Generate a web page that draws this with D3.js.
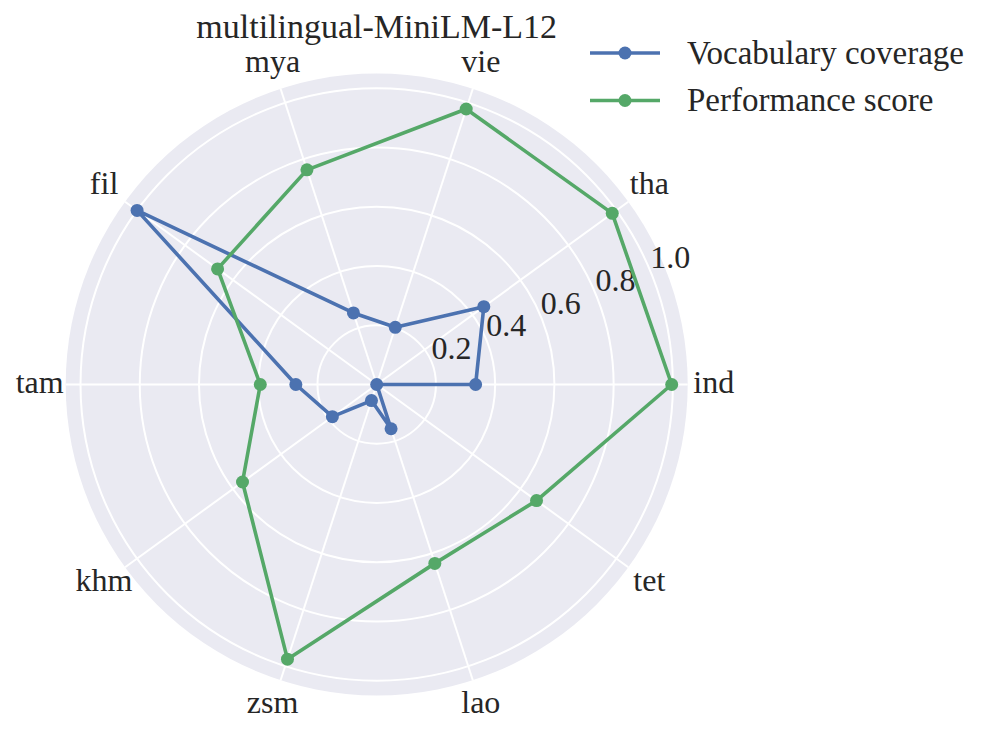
<!DOCTYPE html>
<html>
<head>
<meta charset="utf-8">
<script src="https://cdn.jsdelivr.net/npm/d3@7"></script>
<style>
  body { margin: 0; background: #fff; }
  text { font-family: "Liberation Serif", "Times New Roman", serif; fill: #262626; }
</style>
</head>
<body>
<svg id="chart" width="996" height="735"></svg>
<script>
// languages, in order counter-clockwise from east
var languages = ['ind', 'tha', 'vie', 'mya', 'fil', 'tam', 'khm', 'zsm', 'lao', 'tet'];
var vocabCoverage = [0.334, 0.447, 0.203, 0.254, 1.0, 0.273, 0.185, 0.057, 0.157, 0.0];
var perfScore = [0.996, 0.983, 0.978, 0.762, 0.664, 0.393, 0.56, 0.975, 0.635, 0.667];
var rTicks = [0.2, 0.4, 0.6, 0.8, 1.0];
var seriesNames = ['Vocabulary coverage', 'Performance score'];
var seriesColors = ['#4C72B0', '#55A868'];
var title = 'multilingual-MiniLM-L12';

var cx = 376.7, cy = 384.5, outerR = 311;

var svg = d3.select('#chart');
var g = svg.append('g').attr('transform', 'translate(' + cx + ',' + cy + ')');

// radius scale, 0 at centre, 1.05 at the edge
var rScale = d3.scaleLinear().domain([0, 1.05]).range([0, outerR]);

// math angle (ccw from east) for each category index
var thetaScale = d3.scaleLinear().domain([0, languages.length]).range([0, 2 * Math.PI]);

function px(i, r) { return rScale(r) * Math.cos(thetaScale(i)); }
function py(i, r) { return -rScale(r) * Math.sin(thetaScale(i)); }

// background disc
g.append('circle').attr('r', outerR).attr('fill', '#EAEAF2');

// circular grid
g.selectAll('.ring')
    .data(rTicks)
    .enter().append('circle')
    .attr('r', function (d) { return rScale(d); })
    .attr('fill', 'none')
    .attr('stroke', '#fff')
    .attr('stroke-width', 2);

// spokes
g.selectAll('.spoke')
    .data(languages)
    .enter().append('line')
    .attr('x1', 0).attr('y1', 0)
    .attr('x2', function (d, i) { return px(i, 1.05); })
    .attr('y2', function (d, i) { return py(i, 1.05); })
    .attr('stroke', '#fff')
    .attr('stroke-width', 2);

// radial tick labels along 22.5 degrees
var labAng = 22.5 * Math.PI / 180;
g.selectAll('.rlab')
    .data(rTicks)
    .enter().append('text')
    .attr('x', function (d) { return rScale(d) * Math.cos(labAng) + 20; })
    .attr('y', function (d) { return -rScale(d) * Math.sin(labAng) - 14; })
    .attr('dy', '0.35em')
    .attr('text-anchor', 'middle')
    .style('font-size', '32px')
    .text(function (d) { return d.toFixed(1); });

// category labels
g.selectAll('.clab')
    .data(languages)
    .enter().append('text')
    .attr('x', function (d, i) { return 337 * Math.cos(thetaScale(i)); })
    .attr('y', function (d, i) { return -337 * Math.sin(thetaScale(i)); })
    .attr('dy', '0.25em')
    .attr('text-anchor', 'middle')
    .style('font-size', '32px')
    .text(function (d) { return d; });

// series
var line = d3.lineRadial()
    .angle(function (d, i) { return Math.PI / 2 - thetaScale(i); })
    .radius(function (d) { return rScale(d); })
    .curve(d3.curveLinearClosed);

[vocabCoverage, perfScore].forEach(function (vals, s) {
    g.append('path')
        .attr('d', line(vals))
        .attr('fill', 'none')
        .attr('stroke', seriesColors[s])
        .attr('stroke-width', 3.6)
        .attr('stroke-linejoin', 'round');
    g.selectAll('.pt' + s)
        .data(vals)
        .enter().append('circle')
        .attr('cx', function (d, i) { return px(i, d); })
        .attr('cy', function (d, i) { return py(i, d); })
        .attr('r', 6.5)
        .attr('fill', seriesColors[s]);
});

// title
svg.append('text')
    .attr('x', cx)
    .attr('y', 38)
    .attr('text-anchor', 'middle')
    .style('font-size', '34px')
    .text(title);

// legend
var legend = svg.append('g').attr('transform', 'translate(590, 53)');
var items = legend.selectAll('g')
    .data(seriesNames)
    .enter().append('g')
    .attr('transform', function (d, i) { return 'translate(0,' + (i * 47.5) + ')'; });
items.append('line')
    .attr('x1', 0).attr('x2', 70)
    .attr('stroke', function (d, i) { return seriesColors[i]; })
    .attr('stroke-width', 3.6);
items.append('circle')
    .attr('cx', 35).attr('r', 6.5)
    .attr('fill', function (d, i) { return seriesColors[i]; });
items.append('text')
    .attr('x', 97)
    .attr('dy', '0.32em')
    .style('font-size', '33px')
    .text(function (d) { return d; });
</script>
</body>
</html>
